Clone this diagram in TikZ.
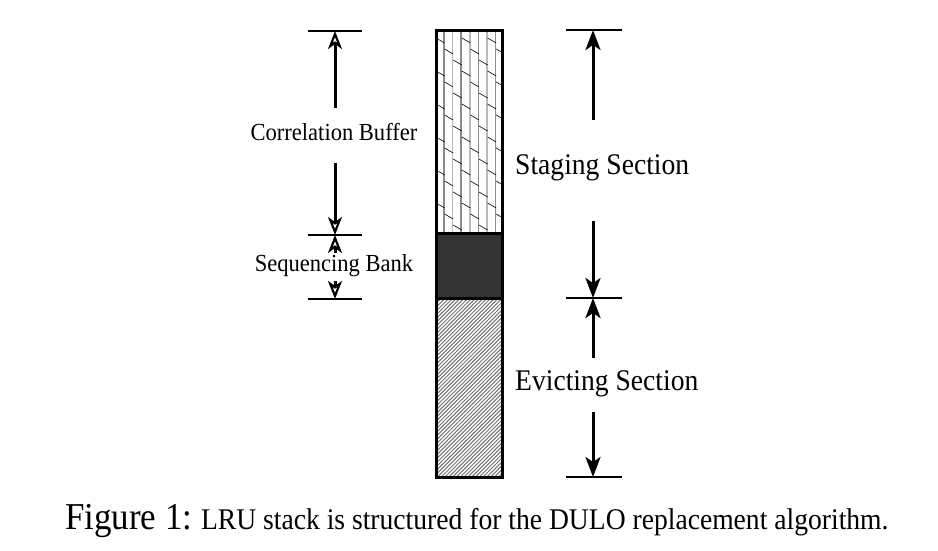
\documentclass[tikz,border=0pt]{standalone}
\usepackage{fontspec}
\setmainfont{Liberation Serif}
\usetikzlibrary{arrows.meta}
\tikzset{
  tick/.style={line width=2.8pt},
  dimfill/.style={line width=3pt,-{Stealth[length=20pt,width=15pt,inset=5pt]}},
  dimopen/.style={line width=3pt,-{Stealth[open,length=18pt,width=14pt,inset=5pt,line width=2.2pt]}},
  lbl/.style={inner sep=0pt,xscale=0.92},
}
\begin{document}
\begin{tikzpicture}[x=1pt,y=-1pt]
\useasboundingbox (0,0) rectangle (938,550);
% top hatched block
\begin{scope}
\clip (436,30) rectangle (502,233);
\foreach \i [count=\k] in {0,...,7}{
  \pgfmathsetmacro{\xx}{444+8.6*\i}
  \ifodd\k \def\cc{gray!90}\else\def\cc{gray!55}\fi
  \draw[\cc,line width=1.6pt] (\xx,30) -- (\xx,233);
}
\foreach \i in {0,...,7}{
  \foreach \j in {-1,...,7}{
    \pgfmathsetmacro{\xa}{436+8.6*\i}
    \pgfmathsetmacro{\ya}{38+33*\j+11*mod(\i,3)}
    \draw[black,line width=0.6pt] (\xa,\ya) -- ++(8.6,5);
  }
}
\end{scope}
% dark block
\fill[black!80] (436,233) rectangle (502,298);
% bottom hatched block
\begin{scope}
\clip (436,298) rectangle (502,477);
\foreach \i in {0,...,70}{
  \draw[black!55,line width=1pt] (436+3.8*\i-200,477) -- ++(200,-200);
}
\end{scope}
\draw[line width=3pt] (436,30) rectangle (502,477);
\draw[line width=3pt] (436,233) -- (502,233);
\draw[line width=3pt] (436,298) -- (502,298);

% left dimensions
\coordinate (L0a) at (308,31); \coordinate (L0b) at (362,31);
\coordinate (L1a) at (308,235); \coordinate (L1b) at (362,235);
\coordinate (L2a) at (308,299); \coordinate (L2b) at (362,299);
\coordinate (Ltop) at (335,31); \coordinate (Lmid) at (335,235); \coordinate (Lbot) at (335,299);
\coordinate (Ls1) at (335,108); \coordinate (Ls2) at (335,163);
\coordinate (Ls3) at (335,253); \coordinate (Ls4) at (335,281);
\draw[tick] (L0a) -- (L0b);
\draw[tick] (L1a) -- (L1b);
\draw[tick] (L2a) -- (L2b);
\draw[dimopen] (Ls1) -- (Ltop);
\draw[dimopen] (Ls2) -- (Lmid);
\draw[dimopen] (Ls3) -- (Lmid);
\draw[dimopen] (Ls4) -- (Lbot);
\node[lbl,anchor=base,font=\fontsize{24.5}{28}\selectfont] (cb) at (334,140) {Correlation Buffer};
\node[lbl,anchor=base,font=\fontsize{24.5}{28}\selectfont] (sb) at (334,271) {Sequencing Bank};

% right dimensions
\coordinate (R0a) at (566,30); \coordinate (R0b) at (622,30);
\coordinate (R1a) at (566,298); \coordinate (R1b) at (622,298);
\coordinate (R2a) at (566,477); \coordinate (R2b) at (622,477);
\coordinate (Rtop) at (593,30); \coordinate (Rmid) at (593,298); \coordinate (Rbot) at (593,477);
\coordinate (Rs1) at (593,120); \coordinate (Rs2) at (593,221);
\coordinate (Rs3) at (593,358); \coordinate (Rs4) at (593,412);
\draw[tick] (R0a) -- (R0b);
\draw[tick] (R1a) -- (R1b);
\draw[tick] (R2a) -- (R2b);
\draw[dimfill] (Rs1) -- (Rtop);
\draw[dimfill] (Rs2) -- (Rmid);
\draw[dimfill] (Rs3) -- (Rmid);
\draw[dimfill] (Rs4) -- (Rbot);
\node[lbl,anchor=base west,font=\fontsize{30}{34}\selectfont] (ss) at (515,174) {Staging Section};
\node[lbl,anchor=base west,font=\fontsize{30}{34}\selectfont] (es) at (515,390) {Evicting Section};

% caption
\node[lbl,anchor=base west,font=\fontsize{38}{42}\selectfont] (fig) at (65,529) {Figure 1:};
\node[lbl,anchor=base west,font=\fontsize{30}{34}\selectfont] (cap) at (fig.base east) {\hspace{9pt}LRU stack is structured for the DULO replacement algorithm.};
\end{tikzpicture}
\end{document}
